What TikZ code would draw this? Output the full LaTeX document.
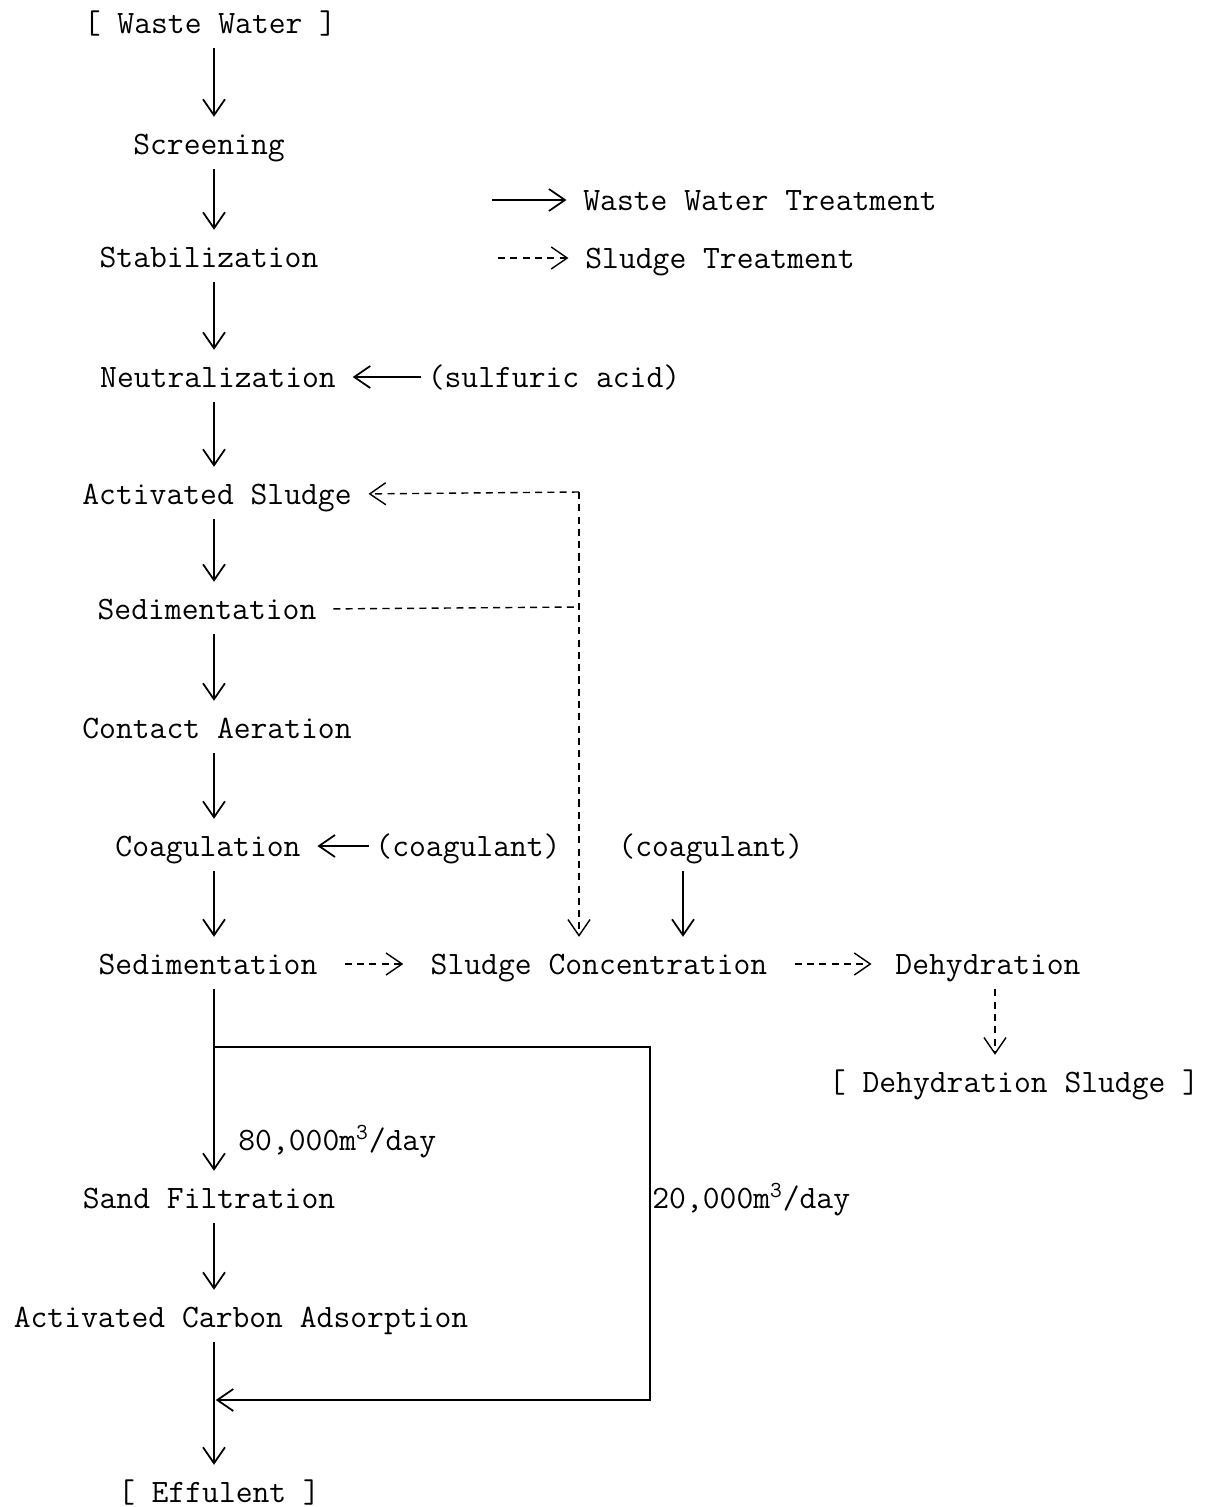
\documentclass[tikz,border=0pt]{standalone}
\usetikzlibrary{arrows.meta}
\tikzset{
  lbl/.style={inner xsep=.12cm, inner ysep=.3cm, text height=11.5pt, text depth=0pt,
    font=\fontsize{18.6}{22}\selectfont\ttfamily},
  flow/.style={-{Straight Barb[length=.32cm,width=.44cm]}, line width=1pt, shorten >=1pt},
  sludge/.style={flow, line width=.8pt, dash pattern=on 4pt off 3pt},
  pipe/.style={line width=1pt},
}
\begin{document}
\begin{tikzpicture}[x=.02cm, y=-.02cm]
\useasboundingbox (0,0) rectangle (1210,1507);
\coordinate (sp) at (214,0);
\coordinate (cin) at (683,0);
\coordinate (dx) at (995,0);
%
% main line
%
\node[lbl] (ww) at (210,23) {[ Waste Water ]};
\node[lbl] (scr) at (209,144) {Screening};
\node[lbl] (stab) at (209,257) {Stabilization};
\node[lbl] (neut) at (218,377) {Neutralization};
\node[lbl] (acts) at (217,494) {Activated Sludge};
\node[lbl] (sed1) at (207,609) {Sedimentation};
\node[lbl] (cont) at (217,728) {Contact Aeration};
\node[lbl] (coag) at (208,846) {Coagulation};
\node[lbl] (sed2) at (208,964) {Sedimentation};
\node[lbl] (sand) at (209,1198) {Sand Filtration};
\node[lbl] (carb) at (241,1317) {Activated Carbon Adsorption};
\node[lbl] (eff) at (219,1492) {[ Effulent ]};
%
% side nodes
%
\node[lbl] (acid) at (554,377) {(sulfuric acid)};
\node[lbl] (coag1) at (468,846) {(coagulant)};
\node[lbl] (coag2) at (711,846) {(coagulant)};
\node[lbl] (conc) at (599,964) {Sludge Concentration};
\node[lbl] (dehy) at (988,964) {Dehydration};
\node[lbl] (dsl) at (1014,1082) {[ Dehydration Sludge ]};
\node[lbl, anchor=west] (q1) at (232,1140) {80,000m\textsuperscript{3}/day};
\node[lbl, anchor=west, inner xsep=.04cm] (q2) at (650,1198) {20,000m\textsuperscript{3}/day};
%
% legend
%
\node[lbl, anchor=west] (leg1) at (577,200) {Waste Water Treatment};
\node[lbl, anchor=west] (leg2) at (579,258) {Sludge Treatment};
\coordinate (l1) at (492,200);
\coordinate (l2) at (498,258);
\draw[flow, shorten >=6pt] (l1) -- (leg1.west);
\draw[sludge, shorten >=6pt] (l2) -- (leg2.west);
%
% waste water
%
\draw[flow] (ww.south -| sp) -- (scr.north -| sp);
\draw[flow] (scr.south -| sp) -- (stab.north -| sp);
\draw[flow] (stab.south -| sp) -- (neut.north -| sp);
\draw[flow] (neut.south -| sp) -- (acts.north -| sp);
\draw[flow] (acts.south -| sp) -- (sed1.north -| sp);
\draw[flow] (sed1.south -| sp) -- (cont.north -| sp);
\draw[flow] (cont.south -| sp) -- (coag.north -| sp);
\draw[flow] (coag.south -| sp) -- (sed2.north -| sp);
\draw[flow] (sed2.south -| sp) -- (sand.north -| sp);
\draw[flow] (sand.south -| sp) -- (carb.north -| sp);
\draw[flow] (carb.south -| sp) -- (eff.north -| sp);
\draw[flow, shorten >=6pt] (acid.west) -- (neut.east);
\draw[flow, shorten >=6pt] (coag1.west) -- (coag.east);
\draw[flow] (coag2.south -| cin) -- (conc.north -| cin);
\coordinate (rt) at (650,1047);
\coordinate (rb) at (650,1400);
\draw[flow] (sp |- rt) -- (rt) -- (rb) -- (sp |- rb);
%
% sludge
%
\coordinate (jt) at (579,492);
\coordinate (jm) at (579,607);
\draw[sludge, -, shorten <=6pt] (sed1.east) -- (jm);
\draw[sludge, shorten >=6pt] (jt) -- (acts.east);
\draw[sludge] (jt) -- (jt |- conc.north);
\draw[sludge, shorten <=12pt, shorten >=12pt] (sed2.east) -- (conc.west);
\draw[sludge, shorten <=12pt, shorten >=10pt] (conc.east) -- (dehy.west);
\draw[sludge] (dehy.south -| dx) -- (dsl.north -| dx);
%
\end{tikzpicture}
\end{document}
